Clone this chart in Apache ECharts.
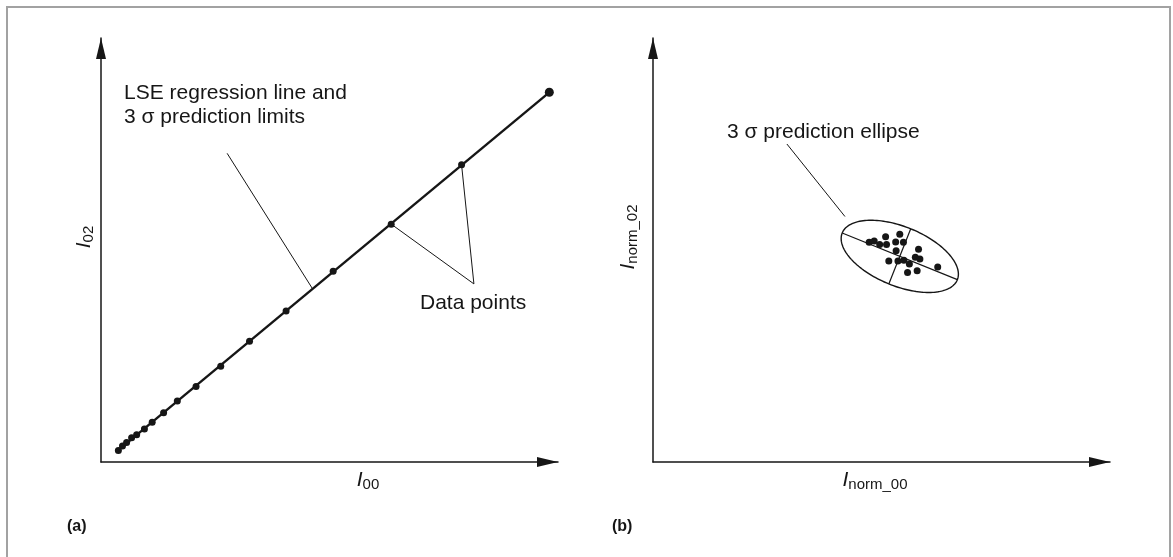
<!DOCTYPE html>
<html>
<head>
<meta charset="utf-8">
<script src="https://cdn.jsdelivr.net/npm/echarts@6/dist/echarts.min.js"></script>
<style>
  html, body { margin: 0; padding: 0; background: #ffffff; }
  #chart { width: 1173px; height: 557px; }
</style>
</head>
<body>
<div id="chart"></div>
<script>
// Panel (a): raw intensities I00 vs I02 (arbitrary units)
const rawI00 = [3.8, 4.7, 5.6, 6.7, 7.8, 9.5, 11.2, 13.7, 16.7, 20.8, 26.2, 32.5, 40.5, 50.8, 63.5, 78.9, 98.1];
const rawI02 = [2.7, 3.8, 4.6, 5.7, 6.4, 7.8, 9.4, 11.6, 14.4, 17.8, 22.6, 28.5, 35.6, 45.0, 56.1, 70.1, 87.2];

// Panel (b): normalised intensities Inorm_00 vs Inorm_02
const normI00 = [47.3, 48.4, 49.6, 50.9, 51.1, 53.1, 54.0, 54.8, 53.2, 58.1, 51.6, 53.6, 54.9, 56.1, 57.4, 58.4, 62.3, 55.7, 57.8];
const normI02 = [51.8, 52.1, 51.3, 53.1, 51.3, 51.9, 53.7, 51.8, 49.8, 50.2, 47.4, 47.4, 47.6, 46.7, 48.3, 47.9, 46.0, 44.7, 45.1];

// 3-sigma prediction ellipse: centre and the ends of its two half-axes
const ellipseCenter = [54.0, 48.5];
const ellipseMajorEnd = [66.6, 43.0];
const ellipseMinorEnd = [56.4, 55.0];

const INK = '#161616';
const FONT = '"Liberation Sans", Arial, Helvetica, sans-serif';

// least-squares regression line of I02 on I00
function lse(xs, ys) {
  const n = xs.length;
  let sx = 0, sy = 0, sxx = 0, sxy = 0;
  for (let i = 0; i < n; i++) { sx += xs[i]; sy += ys[i]; sxx += xs[i] * xs[i]; sxy += xs[i] * ys[i]; }
  const b = (n * sxy - sx * sy) / (n * sxx - sx * sx);
  const a = (sy - b * sx) / n;
  return x => a + b * x;
}
const fit = lse(rawI00, rawI02);
const xMin = Math.min(...rawI00), xMax = Math.max(...rawI00);
const regLine = [[xMin, fit(xMin)], [xMax, fit(xMax)]];

const rawPoints = rawI00.map((x, i) => [x, rawI02[i]]);
const normPoints = normI00.map((x, i) => [x, normI02[i]]);

function axisPair(gridIndex) {
  const line = {
    show: true,
    symbol: ['none', 'triangle'],
    symbolSize: [10, 21],
    symbolOffset: [0, -10.5],
    lineStyle: { color: INK, width: 1.5 }
  };
  const common = {
    type: 'value', min: 0, max: 100, gridIndex,
    axisLine: line, axisTick: { show: false }, axisLabel: { show: false }, splitLine: { show: false }
  };
  return [common, Object.assign({}, common)];
}
const [xa, ya] = axisPair(0);
const [xb, yb] = axisPair(1);

function leader(gridIndex, pts) {
  return {
    type: 'line', xAxisIndex: gridIndex, yAxisIndex: gridIndex, data: pts,
    symbol: 'none', silent: true, z: 1,
    lineStyle: { color: INK, width: 1 }
  };
}

const labelRich = {
  i: { fontFamily: FONT, fontSize: 21, fontStyle: 'italic', lineHeight: 24, fill: INK },
  s: { fontFamily: FONT, fontSize: 15, lineHeight: 14, verticalAlign: 'bottom', fill: INK }
};

function label(text, x, y, opts) {
  return Object.assign({
    type: 'text', x, y, silent: true,
    style: Object.assign({
      text, fill: INK, fontFamily: FONT, fontSize: 21,
      textAlign: 'left', textVerticalAlign: 'middle', align: 'left', verticalAlign: 'middle'
    }, opts && opts.style)
  }, opts && opts.el);
}

const option = {
  backgroundColor: '#ffffff',
  animation: false,
  grid: [
    { left: 101, top: 38, width: 457, height: 424 },
    { left: 653, top: 38, width: 457, height: 424 }
  ],
  xAxis: [xa, xb],
  yAxis: [ya, yb],
  series: [
    {
      type: 'line', xAxisIndex: 0, yAxisIndex: 0, data: regLine,
      symbol: 'none', silent: true, z: 2,
      lineStyle: { color: INK, width: 2.4 }
    },
    {
      type: 'scatter', xAxisIndex: 0, yAxisIndex: 0, data: rawPoints,
      symbolSize: (v, p) => (p.dataIndex === rawPoints.length - 1 ? 9 : 7),
      itemStyle: { color: INK, opacity: 1 }, z: 3
    },
    leader(0, [[27.6, 72.8], [46.3, fit(46.3)]]),
    leader(0, [rawPoints[14], [81.6, 42.0]]),
    leader(0, [rawPoints[15], [81.6, 42.0]]),
    {
      type: 'custom', xAxisIndex: 1, yAxisIndex: 1, data: [ellipseCenter], silent: true, z: 2,
      renderItem: function (params, api) {
        const c = api.coord(ellipseCenter);
        const m = api.coord(ellipseMajorEnd);
        const n = api.coord(ellipseMinorEnd);
        const u = [m[0] - c[0], m[1] - c[1]];
        const v = [n[0] - c[0], n[1] - c[1]];
        const pts = [];
        for (let k = 0; k < 160; k++) {
          const t = k / 160 * Math.PI * 2;
          pts.push([c[0] + u[0] * Math.cos(t) + v[0] * Math.sin(t), c[1] + u[1] * Math.cos(t) + v[1] * Math.sin(t)]);
        }
        const st = { stroke: INK, lineWidth: 1.4, fill: null };
        return {
          type: 'group',
          children: [
            { type: 'polygon', shape: { points: pts }, style: st },
            { type: 'line', shape: { x1: c[0] - u[0], y1: c[1] - u[1], x2: c[0] + u[0], y2: c[1] + u[1] }, style: { stroke: INK, lineWidth: 1.2 } },
            { type: 'line', shape: { x1: c[0] - v[0], y1: c[1] - v[1], x2: c[0] + v[0], y2: c[1] + v[1] }, style: { stroke: INK, lineWidth: 1.2 } }
          ]
        };
      }
    },
    {
      type: 'scatter', xAxisIndex: 1, yAxisIndex: 1, data: normPoints,
      symbolSize: 7, itemStyle: { color: INK, opacity: 1 }, z: 3
    },
    leader(1, [[29.3, 75.0], [42.0, 57.9]])
  ],
  graphic: [
    {
      type: 'rect', silent: true, z: 0,
      shape: { x: 7, y: 7, width: 1163, height: 640 },
      style: { fill: null, stroke: '#a2a2a2', lineWidth: 2 }
    },
    label('LSE regression line and\n3 σ prediction limits', 124, 81,
      { style: { lineHeight: 24, textVerticalAlign: 'top', verticalAlign: 'top' } }),
    label('Data points', 420, 303),
    label('3 σ prediction ellipse', 727, 132),
    label('{i|I}{s|00}', 368, 480, { style: { rich: labelRich, textAlign: 'center', align: 'center' } }),
    label('{i|I}{s|norm_00}', 875, 480, { style: { rich: labelRich, textAlign: 'center', align: 'center' } }),
    label('{i|I}{s|02}', 84, 237, { style: { rich: labelRich, textAlign: 'center', align: 'center' }, el: { rotation: Math.PI / 2 } }),
    label('{i|I}{s|norm_02}', 628, 237, { style: { rich: labelRich, textAlign: 'center', align: 'center' }, el: { rotation: Math.PI / 2 } }),
    label('(a)', 67, 527, { style: { fontSize: 16, fontWeight: 'bold' } }),
    label('(b)', 612, 527, { style: { fontSize: 16, fontWeight: 'bold' } })
  ]
};

const chart = echarts.init(document.getElementById('chart'), null, { renderer: 'canvas' });
chart.setOption(option);
</script>
</body>
</html>
